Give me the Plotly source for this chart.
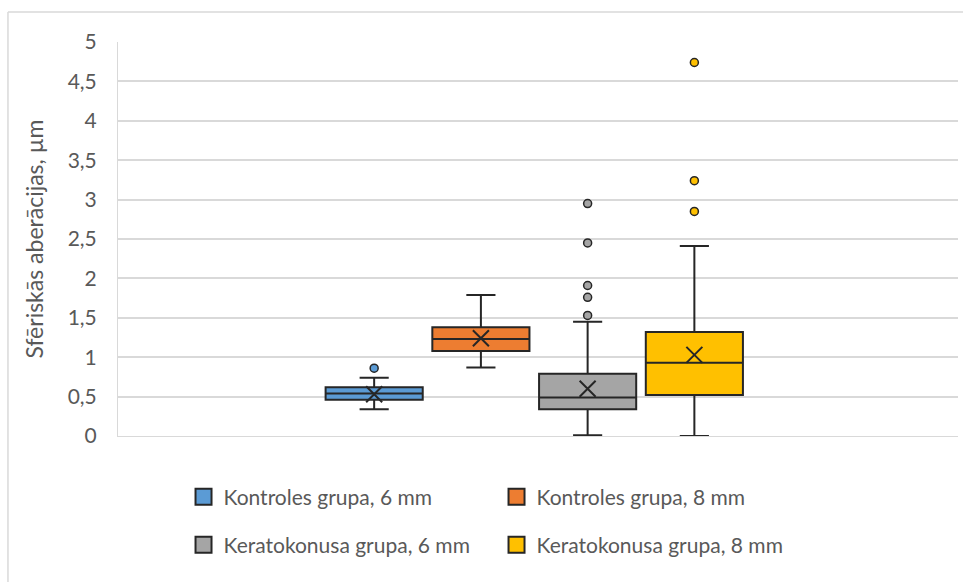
import plotly.graph_objects as go

# Group names and box statistics (µm)
groups = ["Kontroles grupa, 6 mm", "Kontroles grupa, 8 mm",
          "Keratokonusa grupa, 6 mm", "Keratokonusa grupa, 8 mm"]
colors = ["#5B9BD5", "#ED7D31", "#A5A5A5", "#FFC000"]

q1 = [0.46, 1.08, 0.34, 0.52]
median = [0.54, 1.23, 0.49, 0.93]
q3 = [0.62, 1.38, 0.79, 1.32]
lower_whisker = [0.34, 0.87, 0.01, 0.00]
upper_whisker = [0.74, 1.79, 1.45, 2.41]
means = [0.53, 1.24, 0.60, 1.03]
outliers = [
    [0.86],
    [],
    [1.53, 1.76, 1.91, 2.45, 2.95],
    [2.85, 3.24, 4.74],
]

y_ticks = [0, 0.5, 1, 1.5, 2, 2.5, 3, 3.5, 4, 4.5, 5]

FONT = "Lato"
FONT_SIZE = 21
TEXT_COLOR = "#595959"
EDGE = "#262626"
GRID = "#D9D9D9"

fig = go.Figure()

for i, name in enumerate(groups):
    pos = i + 1
    fig.add_trace(go.Box(
        name=name,
        x=[pos],
        q1=[q1[i]], median=[median[i]], q3=[q3[i]],
        lowerfence=[lower_whisker[i]], upperfence=[upper_whisker[i]],
        width=0.91,
        whiskerwidth=0.3,
        fillcolor=colors[i],
        line=dict(color=EDGE, width=2),
        boxpoints=False,
        showlegend=False,
        hoverinfo="skip",
    ))
    # mean marker
    fig.add_trace(go.Scatter(
        x=[pos], y=[means[i]], mode="markers",
        marker=dict(symbol="x-thin", size=16, line=dict(color=EDGE, width=2)),
        showlegend=False, hoverinfo="skip",
    ))
    # outliers
    if outliers[i]:
        fig.add_trace(go.Scatter(
            x=[pos] * len(outliers[i]), y=outliers[i], mode="markers",
            marker=dict(symbol="circle", size=8, color=colors[i],
                        line=dict(color=EDGE, width=1.5)),
            showlegend=False, hoverinfo="skip",
        ))

# legend entries: filled squares, two per row
for i, name in enumerate(groups):
    fig.add_trace(go.Scatter(
        x=[None], y=[None], mode="markers", name=name,
        marker=dict(symbol="square", size=16, color=colors[i],
                    line=dict(color=EDGE, width=2)),
        legend="legend" if i < 2 else "legend2",
        hoverinfo="skip",
    ))

legend_common = dict(
    orientation="h",
    x=0.078, xanchor="left", yanchor="middle",
    font=dict(family=FONT, size=FONT_SIZE, color=TEXT_COLOR),
    entrywidth=268, entrywidthmode="pixels",
    bgcolor="rgba(0,0,0,0)",
)

fig.update_layout(
    width=963, height=582,
    margin=dict(l=118, r=5, t=42, b=146),
    paper_bgcolor="white", plot_bgcolor="white",
    separators=", ",
    font=dict(family=FONT, size=FONT_SIZE, color=TEXT_COLOR),
    showlegend=True,
    legend=dict(y=-0.155, **legend_common),
    legend2=dict(y=-0.277, **legend_common),
    xaxis=dict(
        range=[-1.40, 6.47], showticklabels=False, showgrid=False,
        zeroline=False, showline=True, linecolor=GRID, linewidth=1,
        fixedrange=True,
    ),
    yaxis=dict(
        range=[0, 5], tickvals=y_ticks, tickformat=".1~f",
        showgrid=True, gridcolor=GRID, gridwidth=1.5,
        zeroline=False, showline=True, linecolor=GRID, linewidth=1,
        ticklabelstandoff=16,
        tickfont=dict(family=FONT, size=FONT_SIZE, color=TEXT_COLOR),
        title=dict(text="Sfēriskās aberācijas, µm", standoff=17,
                   font=dict(family=FONT, size=23, color=TEXT_COLOR)),
    ),
    shapes=[
        dict(type="line", xref="paper", yref="paper",
             x0=-0.131, x1=1.01, y0=1.076, y1=1.076,
             line=dict(color=GRID, width=1.5)),
        dict(type="line", xref="paper", yref="paper",
             x0=-0.131, x1=-0.131, y0=1.076, y1=-0.4,
             line=dict(color=GRID, width=1.5)),
    ],
)

fig.write_html("out.html")
